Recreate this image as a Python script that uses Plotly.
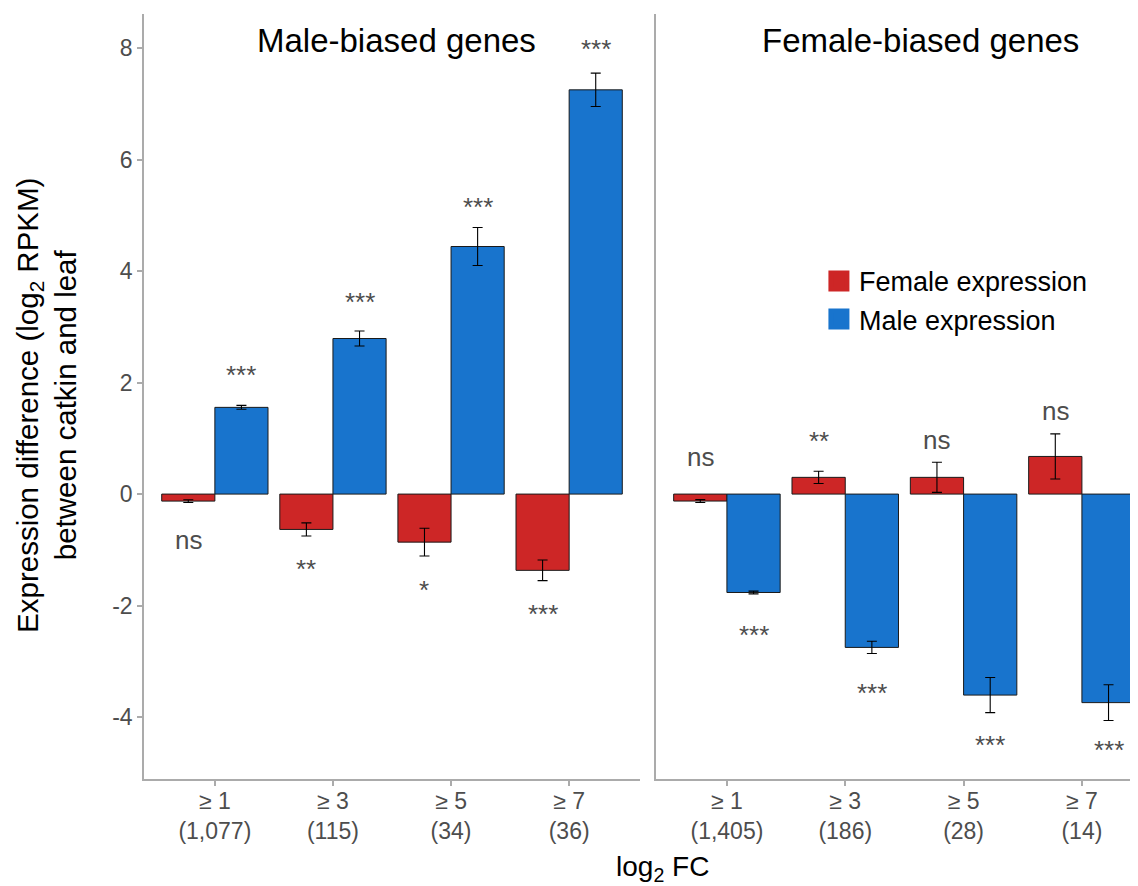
import plotly.graph_objects as go

# ---------------- data ----------------
categories = ["≥ 1", "≥ 3", "≥ 5", "≥ 7"]
male_biased_counts = ["1,077", "115", "34", "36"]
female_biased_counts = ["1,405", "186", "28", "14"]

# Male-biased genes panel
mb_female_expr = [-0.126, -0.634, -0.862, -1.368]
mb_female_se = [0.025, 0.118, 0.248, 0.185]
mb_male_expr = [1.555, 2.790, 4.440, 7.250]
mb_male_se = [0.035, 0.135, 0.340, 0.300]
mb_female_sig = ["ns", "**", "*", "***"]
mb_male_sig = ["***", "***", "***", "***"]
mb_female_label_y = [-0.83, -1.30, -1.68, -2.11]
mb_male_label_y = [2.18, 3.48, 5.18, 8.01]

# Female-biased genes panel
fb_female_expr = [-0.125, 0.300, 0.300, 0.675]
fb_female_se = [0.025, 0.110, 0.270, 0.405]
fb_male_expr = [-1.765, -2.750, -3.605, -3.740]
fb_male_se = [0.025, 0.110, 0.315, 0.320]
fb_female_sig = ["ns", "**", "ns", "ns"]
fb_male_sig = ["***", "***", "***", "***"]
fb_female_label_y = [0.66, 0.99, 0.97, 1.49]
fb_male_label_y = [-2.49, -3.53, -4.47, -4.55]

y_ticks = [-4, -2, 0, 2, 4, 6, 8]
panel_titles = ["Male-biased genes", "Female-biased genes"]
series_names = ["Female expression", "Male expression"]

# ---------------- style ----------------
FONT = "Liberation Sans, Arial, Helvetica, sans-serif"
RED = "#CD2626"
BLUE = "#1874CD"
GREY_TXT = "#4D4D4D"
AXIS_COL = "#ABABAB"
colors = [RED, BLUE]
pos = [1, 2, 3, 4]
half = 0.225  # half of a bar slot for grouped bars (bargap 0.1)

fig = go.Figure()

panels = [
    ("x", "y", mb_female_expr, mb_female_se, mb_male_expr, mb_male_se),
    ("x2", "y2", fb_female_expr, fb_female_se, fb_male_expr, fb_male_se),
]
for xa, ya, fv, fs, mv, ms in panels:
    for name, vals, se, col in [(series_names[0], fv, fs, RED), (series_names[1], mv, ms, BLUE)]:
        fig.add_trace(go.Bar(
            x=pos, y=vals, name=name, xaxis=xa, yaxis=ya, showlegend=False,
            marker=dict(color=col, line=dict(color="#1a1a1a", width=1)),
            error_y=dict(type="data", array=se, visible=True, color="black", thickness=1.1, width=5),
        ))

# legend entries
for i, name in enumerate(series_names):
    fig.add_trace(go.Scatter(
        x=[None], y=[None], mode="markers", name=name, legendgroup=name,
        marker=dict(symbol="square", size=16, color=colors[i], line=dict(color=colors[i], width=5)),
        showlegend=True, xaxis="x2", yaxis="y2",
    ))

annotations = []
sig_sets = [
    ("x", "y", mb_female_sig, mb_female_label_y, mb_male_sig, mb_male_label_y),
    ("x2", "y2", fb_female_sig, fb_female_label_y, fb_male_sig, fb_male_label_y),
]
for xa, ya, fsig, fy, msig, my in sig_sets:
    for i in range(4):
        for txt, yy, off in [(fsig[i], fy[i], -half), (msig[i], my[i], half)]:
            is_ns = txt == "ns"
            annotations.append(dict(
                x=pos[i] + off, y=yy, xref=xa, yref=ya, text=txt, showarrow=False,
                xanchor="center", yanchor="middle",
                yshift=0 if is_ns else -2,
                font=dict(family=FONT, size=26, color=GREY_TXT),
            ))

annotations.append(dict(x=2.54, y=8.14, xref="x", yref="y", text=panel_titles[0], showarrow=False,
                        xanchor="center", yanchor="middle", font=dict(family=FONT, size=33, color="black")))
annotations.append(dict(x=2.64, y=8.14, xref="x2", yref="y2", text=panel_titles[1], showarrow=False,
                        xanchor="center", yanchor="middle", font=dict(family=FONT, size=33, color="black")))
annotations.append(dict(x=0.522, y=-0.117, xref="paper", yref="paper", text="log<sub>2</sub> FC",
                        showarrow=False, xanchor="center", yanchor="middle",
                        font=dict(family=FONT, size=28, color="black")))
annotations.append(dict(x=-0.0976, y=0.489, xref="paper", yref="paper", textangle=-90,
                        text="Expression difference (log<sub>2</sub> RPKM)<br>between catkin and leaf",
                        showarrow=False, xanchor="center", yanchor="middle",
                        font=dict(family=FONT, size=29.5, color="black")))

common_x = dict(
    tickmode="array", tickvals=pos, showline=True, linecolor=AXIS_COL, linewidth=1.5,
    ticks="outside", ticklen=5, tickcolor=AXIS_COL, tickwidth=1.5, ticklabelstandoff=-4,
    tickfont=dict(family=FONT, size=23, color=GREY_TXT),
    showgrid=False, zeroline=False, fixedrange=True,
)
yrange = [-5.11, 8.61]

# the page body adds an 8px offset; the figure is sized so the plot lands where the reference has it
fig.update_layout(
    width=1130, height=878,
    margin=dict(l=136, r=0, t=6, b=107),
    paper_bgcolor="white", plot_bgcolor="white",
    barmode="group", bargap=0.1, bargroupgap=0,
    font=dict(family=FONT),
    xaxis=dict(domain=[0, 0.499], range=[0.4, 4.6],
               ticktext=[f"{c}<br>({n})" for c, n in zip(categories, male_biased_counts)], **common_x),
    xaxis2=dict(domain=[0.515, 1], range=[0.4, 4.474], anchor="y2",
                ticktext=[f"{c}<br>({n})" for c, n in zip(categories, female_biased_counts)], **common_x),
    yaxis=dict(range=yrange, tickmode="array", tickvals=y_ticks, ticktext=[str(t) for t in y_ticks],
               showline=True, linecolor=AXIS_COL, linewidth=1.5,
               ticks="outside", ticklen=5, tickcolor=AXIS_COL, tickwidth=1.5,
               tickfont=dict(family=FONT, size=23, color=GREY_TXT),
               showgrid=False, zeroline=False),
    yaxis2=dict(range=yrange, anchor="x2", matches="y", showline=True, linecolor=AXIS_COL, linewidth=1.5,
                showticklabels=False, ticks="", showgrid=False, zeroline=False),
    legend=dict(x=0.679, y=0.6825, xanchor="left", yanchor="top", xref="paper", yref="paper",
                font=dict(family=FONT, size=27, color="black"), bgcolor="rgba(0,0,0,0)",
                tracegroupgap=0, itemsizing="trace"),
    annotations=annotations,
    showlegend=True,
)

fig.write_html("out.html")
